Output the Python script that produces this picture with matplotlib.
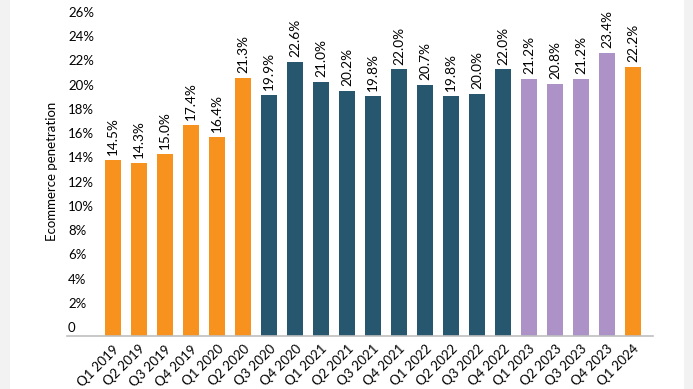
#!/usr/bin/env python3
"""Quarterly ecommerce penetration bar chart."""

import matplotlib

matplotlib.use("Agg")
import matplotlib.pyplot as plt
from matplotlib.patches import Rectangle
from matplotlib.transforms import ScaledTranslation

quarters = [
    "Q1 2019", "Q2 2019", "Q3 2019", "Q4 2019",
    "Q1 2020", "Q2 2020", "Q3 2020", "Q4 2020",
    "Q1 2021", "Q2 2021", "Q3 2021", "Q4 2021",
    "Q1 2022", "Q2 2022", "Q3 2022", "Q4 2022",
    "Q1 2023", "Q2 2023", "Q3 2023", "Q4 2023",
    "Q1 2024",
]
penetration = [
    14.5, 14.3, 15.0, 17.4, 16.4, 21.3, 19.9, 22.6, 21.0, 20.2, 19.8,
    22.0, 20.7, 19.8, 20.0, 22.0, 21.2, 20.8, 21.2, 23.4, 22.2,
]
# colour group per bar
groups = ["pre"] * 6 + ["covid"] * 10 + ["recent"] * 4 + ["pre"]
ytick_values = list(range(0, 27, 2))
ytick_labels = ["0"] + [f"{v}%" for v in ytick_values[1:]]

palette = {"pre": "#F7921F", "covid": "#26576E", "recent": "#AD92C7"}

plt.rcParams["font.family"] = ["Lato", "DejaVu Sans"]

W, H = 693, 389
fig = plt.figure(figsize=(W / 100, H / 100), dpi=100)

# grey side strips of the original screenshot
fig.patches.append(Rectangle((0, 0), 10 / W, 1, transform=fig.transFigure,
                             facecolor="#F2F2F2", edgecolor="none", zorder=0))
fig.patches.append(Rectangle((684 / W, 0), 9 / W, 1, transform=fig.transFigure,
                             facecolor="#F2F2F2", edgecolor="none", zorder=0))

ax = fig.add_axes([67 / W, (H - 336) / H, (653 - 67) / W, 336 / H])
ax.patch.set_alpha(0)

x = range(len(quarters))
bars = ax.bar(x, penetration, width=0.615,
              color=[palette[g] for g in groups], zorder=2)
ax.bar_label(bars, labels=[f"{v:.1f}%" for v in penetration],
             rotation=90, padding=3.5, fontsize=9.8, color="black")

ax.set_xlim(-1.77, len(quarters) - 0.23)
ax.set_ylim(0, 336 / 12.115)

ax.set_yticks(ytick_values)
ax.set_yticklabels(ytick_labels, fontsize=9.5)
ax.tick_params(axis="y", length=0, pad=0)
shift = ScaledTranslation(0.01, 0.09, fig.dpi_scale_trans)
for lbl in ax.get_yticklabels():
    lbl.set_horizontalalignment("left")
    lbl.set_transform(lbl.get_transform() + shift)

ax.set_xticks(list(x))
ax.set_xticklabels(quarters, rotation=45, ha="right",
                   rotation_mode="anchor", fontsize=9.5)
ax.tick_params(axis="x", length=0, pad=5)

ax.set_ylabel("Ecommerce penetration", fontsize=9.5)
ax.yaxis.set_label_coords(-0.015, 0.49)

for side in ("top", "right", "left"):
    ax.spines[side].set_visible(False)
ax.spines["bottom"].set_color("#BFBFBF")
ax.spines["bottom"].set_linewidth(1.2)

fig.savefig("out.png", dpi=100)
